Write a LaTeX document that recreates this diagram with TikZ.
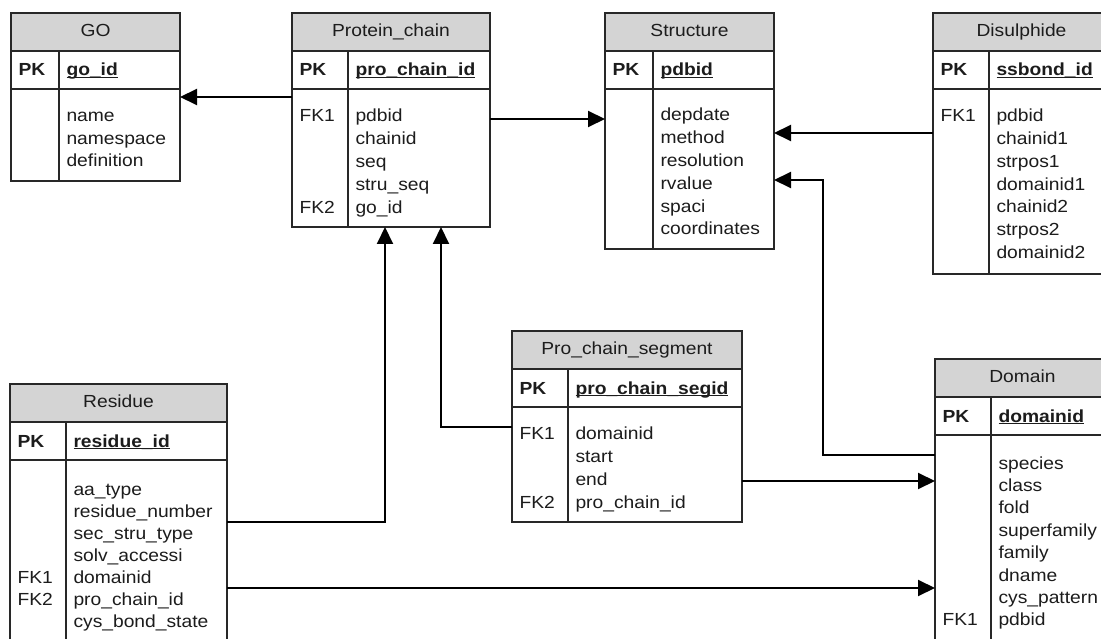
\documentclass[tikz,border=0pt]{standalone}
\usepackage{fontspec}
\setmainfont{Liberation Sans}[FakeStretch=1.1]
\usetikzlibrary{arrows.meta}

\definecolor{headfill}{RGB}{212,212,212}
\definecolor{ink}{RGB}{28,28,28}
\definecolor{frame}{RGB}{40,40,40}

% bold, underlined primary-key column name
\newcommand\pkfield[1]{\setbox0\hbox{\bfseries #1}\rlap{\rule[-2.4pt]{\wd0}{1.2pt}}\box0}

\tikzset{
  boxline/.style={draw=frame, line width=1.2pt},
  cell/.style={boxline, inner sep=0pt, outer sep=0pt, anchor=north west},
  headcell/.style={cell, fill=headfill, text=ink,
    font=\fontsize{17.5pt}{20pt}\selectfont, text height=12pt, text depth=3.5pt},
  lbl/.style={inner sep=0pt, outer sep=0pt, anchor=base west, text=ink,
    font=\fontsize{17.5pt}{20pt}\selectfont},
  pklbl/.style={lbl, font=\fontsize{17.5pt}{20pt}\selectfont\bfseries},
  fk/.style={draw=black, line width=2pt, -{Triangle[length=17pt,width=16pt]}},
}

% table frame: id, left, right, divider, top, bottom, title, key column
\newcommand\entity[8]{%
  \node[headcell, minimum width={(#3-#2)*1pt}, minimum height=38pt] (#1-head) at (#2,#5) {#7};
  \node[cell, minimum width={(#3-#2)*1pt}, minimum height=38pt] (#1-pk) at (#2,#5+38) {};
  \node[cell, minimum width={(#3-#2)*1pt}, minimum height={(#6-#5-76)*1pt}] (#1-body) at (#2,#5+76) {};
  \draw[boxline] (#4,#5+38) -- (#4,#6);
  \node[pklbl] (#1-pkl) at (#2+7.5,#5+63) {PK};
  \node[lbl] (#1-key) at (#4+7.5,#5+63) {\pkfield{#8}};
}
% column names: id, divider, first baseline, pitch, list
\newcommand\fields[5]{%
  \foreach \f [count=\i] in {#5}
    \node[lbl] (#1-f\i) at (#2+7.5,{#3+(\i-1)*#4}) {\f};
}

\begin{document}
\begin{tikzpicture}[x=1pt,y=-1pt]
\useasboundingbox (0,0) rectangle (1101,639);
\clip (0,0) rectangle (1101,639);
\fill[white] (0,0) rectangle (1101,639);

% GO
\entity{go}{11}{180}{59}{13}{181}{GO}{go\_id}
\fields{go}{59}{121.7}{22.5}{name,namespace,definition}

% Protein_chain
\entity{pc}{292}{490}{348}{13}{227}{Protein\_chain}{pro\_chain\_id}
\fields{pc}{348}{121.7}{22.9}{pdbid,chainid,seq,stru\_seq,go\_id}
\node[lbl] (pc-fk1) at (299.5,121.7) {FK1};
\node[lbl] (pc-fk2) at (299.5,213.3) {FK2};

% Structure
\entity{st}{605}{774}{653}{13}{249}{Structure}{pdbid}
\fields{st}{653}{120.5}{22.9}{depdate,method,resolution,rvalue,spaci,coordinates}

% Disulphide
\entity{ds}{933}{1110}{989}{13}{274}{Disulphide}{ssbond\_id}
\fields{ds}{989}{121.7}{22.8}{pdbid,chainid1,strpos1,domainid1,chainid2,strpos2,domainid2}
\node[lbl] (ds-fk1) at (940.5,121.7) {FK1};

% Pro_chain_segment
\entity{sg}{512}{742}{568}{331}{522}{Pro\_chain\_segment}{pro\_chain\_segid}
\fields{sg}{568}{439}{23}{domainid,start,end,pro\_chain\_id}
\node[lbl] (sg-fk1) at (519.5,439) {FK1};
\node[lbl] (sg-fk2) at (519.5,508) {FK2};

% Residue
\entity{rs}{10}{227}{66}{384}{660}{Residue}{residue\_id}
\fields{rs}{66}{495}{22}{aa\_type,residue\_number,sec\_stru\_type,solv\_accessi,domainid,pro\_chain\_id,cys\_bond\_state}
\node[lbl] (rs-fk1) at (17.5,583) {FK1};
\node[lbl] (rs-fk2) at (17.5,605) {FK2};

% Domain
\entity{dm}{935}{1110}{991}{359}{660}{Domain}{domainid}
\fields{dm}{991}{469}{22.4}{species,class,fold,superfamily,family,dname,cys\_pattern,pdbid}
\node[lbl] (dm-fk1) at (942.5,625.8) {FK1};

% foreign-key references
\draw[fk] (pc-body.west |- 0,97) -- (go-body.east |- 0,97);
\draw[fk] (pc-body.east |- 0,119) -- (st-body.west |- 0,119);
\draw[fk] (ds-body.west |- 0,133) -- (st-body.east |- 0,133);
\draw[fk] (dm-body.west |- 0,455) -| (823,180) -- (st-body.east |- 0,180);
\draw[fk] (rs-body.east |- 0,522) -| (pc-body.south -| 385,0);
\draw[fk] (sg-body.west |- 0,427) -| (pc-body.south -| 441,0);
\draw[fk] (sg-body.east |- 0,481) -- (dm-body.west |- 0,481);
\draw[fk] (rs-body.east |- 0,588) -- (dm-body.west |- 0,588);
\end{tikzpicture}
\end{document}
